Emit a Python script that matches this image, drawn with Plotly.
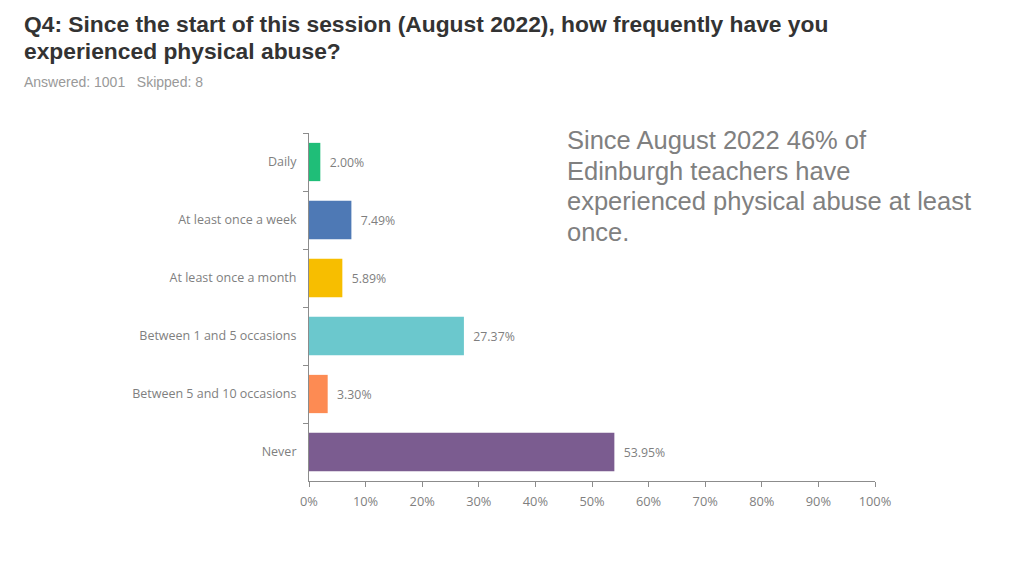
import plotly.graph_objects as go

categories = ["Daily", "At least once a week", "At least once a month",
              "Between 1 and 5 occasions", "Between 5 and 10 occasions", "Never"]
values = [2.00, 7.49, 5.89, 27.37, 3.30, 53.95]
colors = ["#1fbe78", "#4e79b5", "#f7be00", "#6bc8cd", "#fd8b53", "#7b5c90"]
tick_vals = [0, 10, 20, 30, 40, 50, 60, 70, 80, 90, 100]
tick_text = [f"{v}%" for v in tick_vals]
title_lines = ["Q4: Since the start of this session (August 2022), how frequently have you",
               "experienced physical abuse?"]
note_lines = ["Since August 2022 46% of", "Edinburgh teachers have",
              "experienced physical abuse at least", "once."]

OFF = 8  # page body margin offset
L, R, T, B = 309 - OFF, 875 - OFF, 133 - OFF, 481 - OFF
W, H = R - L, B - T

def px(x):
    return (x - OFF - L) / W

def py(y):
    return (B - (y - OFF)) / H

fig = go.Figure(go.Bar(
    y=categories, x=values, orientation="h",
    marker=dict(color=colors, line=dict(width=0)),
    text=[f"&nbsp;&nbsp;{v:.2f}%" for v in values], textposition="outside",
    textfont=dict(family="Open Sans, Lato, sans-serif", size=12.3, color="#7f7f7f"),
    cliponaxis=False, width=0.66,
))

fig.update_layout(
    width=1024, height=576,
    margin=dict(l=L, r=1024 - R, t=T, b=576 - B),
    paper_bgcolor="white", plot_bgcolor="white",
    showlegend=False,
    font=dict(family="Open Sans, Lato, sans-serif", color="#7f7f7f"),
)
fig.update_xaxes(
    range=[0, 100], tickvals=tick_vals, ticktext=tick_text, automargin=False,
    showgrid=False, zeroline=False, showline=True, linecolor="#8c8c8c", linewidth=1,
    ticks="outside", ticklen=5, tickcolor="#8c8c8c", ticklabelstandoff=4,
    tickfont=dict(size=12.8, color="#7f7f7f"),
)
fig.update_yaxes(
    categoryorder="array", categoryarray=categories, autorange="reversed", automargin=False,
    showgrid=False, zeroline=False, showline=True, linecolor="#8c8c8c", linewidth=1,
    ticks="outside", ticklen=5, tickcolor="#8c8c8c", tickson="boundaries",
    tickfont=dict(size=12.5, color="#7f7f7f"), ticklabelstandoff=9,
)

for i, line in enumerate(title_lines):
    fig.add_annotation(
        xref="paper", yref="paper", x=px(22), y=py(24 + i * 27),
        xanchor="left", yanchor="middle",
        text=f"<b>{line}</b>", align="left", showarrow=False,
        font=dict(family="Liberation Sans, Arial, sans-serif", size=22.8, color="#333333"),
    )
fig.add_annotation(
    xref="paper", yref="paper", x=px(22), y=py(82),
    xanchor="left", yanchor="middle",
    text="Answered: 1001&nbsp;&nbsp;&nbsp;Skipped: 8",
    align="left", showarrow=False,
    font=dict(family="Liberation Sans, Arial, sans-serif", size=14, color="#999999"),
)
for i, line in enumerate(note_lines):
    fig.add_annotation(
        xref="paper", yref="paper", x=px(565), y=py(140 + i * 30.7),
        xanchor="left", yanchor="middle",
        text=line, align="left", showarrow=False,
        font=dict(family="Liberation Sans, Arial, sans-serif", size=25.5, color="#808080"),
    )

fig.write_html("out.html")
